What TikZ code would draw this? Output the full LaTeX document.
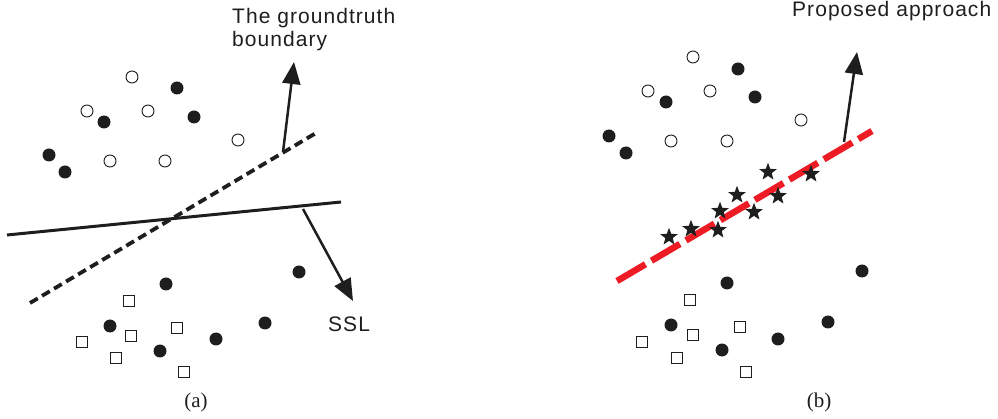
\documentclass[tikz,border=0pt]{standalone}
\usepackage{fontspec}
\setmainfont{Liberation Serif}
\newfontfamily\labelsans[LetterSpace=5]{Liberation Sans}
\usetikzlibrary{shapes.geometric,arrows.meta}
\definecolor{boundaryred}{RGB}{237,28,36}
\definecolor{ink}{RGB}{30,30,30}
\begin{document}
\begin{tikzpicture}[x=1pt,y=-1pt,
  opendot/.style={circle,draw=ink,line width=0.9pt,fill=white,minimum size=12pt,inner sep=0pt},
  solidot/.style={circle,fill=ink,minimum size=13pt,inner sep=0pt},
  sqbox/.style={rectangle,draw=ink,line width=0.9pt,fill=white,minimum size=11pt,inner sep=0pt},
  starpt/.style={star,star points=5,star point ratio=2.4,fill=ink,minimum size=18.5pt,inner sep=0pt},
  gtline/.style={draw=ink,line width=3.8pt,dash pattern=on 9pt off 5pt},
  sslline/.style={draw=ink,line width=3pt},
  ourline/.style={draw=boundaryred,line width=6.5pt,dash pattern=on 33pt off 7pt},
  pointer/.style={draw=ink,line width=2.5pt,-{Triangle[length=22pt,width=18pt]}},
  annot/.style={font=\labelsans\fontsize{21}{23}\selectfont,inner sep=0pt,text=ink},
  caption/.style={font=\fontsize{21}{24}\selectfont,inner sep=0pt,text=ink}
]
\useasboundingbox (0,0) rectangle (998,419);

% ---------------- panel (a) ----------------
\coordinate (gtA) at (30,303);
\coordinate (gtB) at (316,133);
\coordinate (sslA) at (7,235);
\coordinate (sslB) at (341,202);
\draw[gtline] (gtA) -- (gtB);
\draw[sslline] (sslA) -- (sslB);

\foreach \p [count=\i] in {(132,77),(87,111),(148,111),(238,140),(110,161),(165,161)}
  \node[opendot] (aO\i) at \p {};
\foreach \p [count=\i] in {(177,88),(104,122),(194,117),(49,155),(65,172),
                            (166,284),(299,272),(110,326),(265,323),(216,339),(160,351)}
  \node[solidot] (aF\i) at \p {};
\foreach \p [count=\i] in {(129,301),(177,328),(131,336),(82,342),(116,358),(184,372)}
  \node[sqbox] (aS\i) at \p {};

\coordinate (gtFrom) at (283,152);
\coordinate (gtTo) at (294,62);
\draw[pointer] (gtFrom) -- (gtTo);
\coordinate (sslFrom) at (303,209);
\coordinate (sslTo) at (353,301);
\draw[pointer] (sslFrom) -- (sslTo);

\node[annot,anchor=north west,align=left] (gtText) at (232,8) {The groundtruth\\boundary};
\node[annot,anchor=base west] (sslText) at (328,331) {SSL};
\node[caption,anchor=base] (capA) at (196,407) {(a)};

% ---------------- panel (b) ----------------
\coordinate (ourA) at (617,281);
\coordinate (ourB) at (872,131);
\draw[ourline] (ourA) -- (ourB);

\foreach \p [count=\i] in {(693,57),(648,91),(710,91),(801,120),(671,141),(727,141)}
  \node[opendot] (bO\i) at \p {};
\foreach \p [count=\i] in {(738,69),(666,102),(755,97),(609,136),(626,153),
                            (727,283),(862,271),(671,325),(828,322),(778,339),(722,350)}
  \node[solidot] (bF\i) at \p {};
\foreach \p [count=\i] in {(690,300),(740,327),(693,335),(642,342),(677,358),(746,372)}
  \node[sqbox] (bS\i) at \p {};
\foreach \p [count=\i] in {(768,172),(811,174),(737,195),(778,196),(720,211),
                            (754,212),(691,229),(718,230),(669,237)}
  \node[starpt] (bT\i) at \p {};

\coordinate (ourFrom) at (844,142);
\coordinate (ourTo) at (857,52);
\draw[pointer] (ourFrom) -- (ourTo);

\node[annot,anchor=base west] (ourText) at (792,17) {Proposed approach};
\node[caption,anchor=base] (capB) at (819,407) {(b)};
\end{tikzpicture}
\end{document}
